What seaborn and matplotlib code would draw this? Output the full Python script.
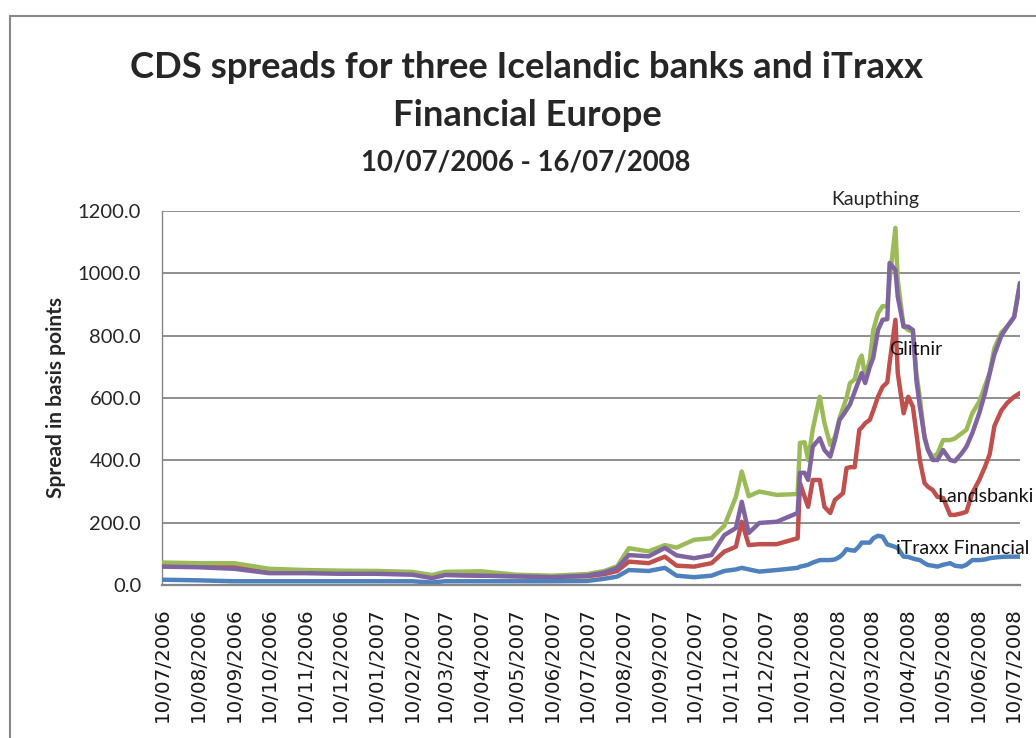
import matplotlib
matplotlib.use("Agg")
import matplotlib.pyplot as plt
from matplotlib.patches import Rectangle
from matplotlib.ticker import FormatStrFormatter
import seaborn as sns
import pandas as pd

dates = ["2006-07-10", "2006-08-10", "2006-09-10", "2006-10-10", "2006-11-10", "2006-12-10",
         "2007-01-10", "2007-02-10", "2007-02-27", "2007-03-10", "2007-04-10", "2007-05-10",
         "2007-06-10", "2007-07-10", "2007-07-25", "2007-08-05", "2007-08-15", "2007-09-01",
         "2007-09-15", "2007-09-25", "2007-10-10", "2007-10-25", "2007-11-05", "2007-11-15",
         "2007-11-20", "2007-11-26", "2007-12-05", "2007-12-20",
         "2008-01-07", "2008-01-09", "2008-01-13", "2008-01-16", "2008-01-20", "2008-01-26",
         "2008-01-30", "2008-02-04", "2008-02-08", "2008-02-12", "2008-02-15", "2008-02-18",
         "2008-02-21", "2008-02-25", "2008-02-29", "2008-03-02", "2008-03-05", "2008-03-09",
         "2008-03-12", "2008-03-16", "2008-03-20", "2008-03-24", "2008-03-26", "2008-03-31",
         "2008-04-02", "2008-04-07", "2008-04-11", "2008-04-15", "2008-04-18", "2008-04-21",
         "2008-04-25", "2008-04-28", "2008-05-02", "2008-05-06", "2008-05-11", "2008-05-17",
         "2008-05-21", "2008-05-27", "2008-05-31", "2008-06-05", "2008-06-11", "2008-06-16",
         "2008-06-20", "2008-06-24", "2008-06-30", "2008-07-05", "2008-07-11", "2008-07-16"]

kaupthing = [72, 70, 70, 52, 48, 46, 45, 42, 32, 42, 44, 33,
             30, 35, 45, 60, 118, 108, 128, 120, 145, 150, 190, 283,
             364, 285, 300, 289,
             292, 456, 458, 401, 500, 604,
             520, 450, 475, 535, 568, 600,
             648, 660, 722, 736, 669, 722,
             818, 872, 895, 893, 979, 1146,
             979, 830, 818, 813, 680, 600,
             470, 433, 412, 420, 465, 465,
             470, 487, 498, 551, 588, 640,
             680, 760, 810, 829, 860, 969]

glitnir = [59, 57, 52, 38, 38, 36, 36, 33, 22, 32, 30, 28,
           25, 30, 40, 55, 96, 92, 119, 95, 86, 96, 160, 183,
           267, 167, 199, 203,
           231, 360, 360, 337, 444, 471,
           433, 412, 465, 530, 545, 562,
           580, 620, 660, 680, 648, 700,
           730, 818, 851, 853, 1033, 1011,
           925, 829, 829, 818, 658, 572,
           476, 433, 401, 401, 433, 401,
           397, 423, 444, 487, 551, 616,
           680, 740, 800, 829, 860, 969]

landsbanki = [62, 60, 60, 45, 42, 40, 40, 36, 25, 33, 30, 28,
              26, 28, 35, 45, 75, 70, 91, 62, 59, 70, 107, 123,
              203, 128, 131, 131,
              150, 327, 283, 251, 337, 337,
              251, 231, 273, 285, 295, 375,
              378, 378, 498, 505, 519, 530,
              560, 604, 636, 650, 712, 851,
              680, 551, 604, 572, 487, 400,
              327, 315, 305, 283, 279, 225,
              225, 230, 235, 295, 337, 380,
              420, 510, 560, 584, 604, 616]

itraxx = [17, 15, 12, 12, 12, 12, 12, 12, 8, 12, 12, 12,
          12, 13, 20, 27, 48, 45, 55, 30, 25, 30, 45, 50,
          55, 50, 43, 48,
          55, 59, 62, 65, 72, 80,
          80, 80, 82, 90, 100, 115,
          112, 110, 125, 136, 136, 136,
          150, 158, 155, 130, 128, 122,
          118, 91, 90, 85, 82, 80,
          70, 64, 62, 59, 65, 70,
          62, 59, 65, 80, 80, 82,
          86, 88, 90, 91, 91, 91]

series_names = ["iTraxx Financial", "Landsbanki", "Kaupthing", "Glitnir"]
series_values = [itraxx, landsbanki, kaupthing, glitnir]
series_colors = ["#4F81BD", "#C0504D", "#9BBB59", "#8064A2"]

xtick_labels = ["10/07/2006", "10/08/2006", "10/09/2006", "10/10/2006", "10/11/2006",
                "10/12/2006", "10/01/2007", "10/02/2007", "10/03/2007", "10/04/2007",
                "10/05/2007", "10/06/2007", "10/07/2007", "10/08/2007", "10/09/2007",
                "10/10/2007", "10/11/2007", "10/12/2007", "10/01/2008", "10/02/2008",
                "10/03/2008", "10/04/2008", "10/05/2008", "10/06/2008", "10/07/2008"]
yticks = [0, 200, 400, 600, 800, 1000, 1200]
title_lines = ["CDS spreads for three Icelandic banks and iTraxx", "Financial Europe"]
subtitle = "10/07/2006 - 16/07/2008"
ylabel = "Spread in basis points"

sns.set_theme(style="white")
narrow = ["Lato", "DejaVu Sans"]
plt.rcParams["font.family"] = narrow

W, H = 1036, 738
fig = plt.figure(figsize=(W / 100, H / 100), dpi=100)
ax = fig.add_axes([162 / W, 1 - 585 / H, (1020 - 162) / W, (585 - 211) / H])

frames = []
for name, vals in zip(series_names, series_values):
    frames.append(pd.DataFrame({"date": pd.to_datetime(dates), "value": vals, "series": name}))
df = pd.concat(frames, ignore_index=True)

for name, color in zip(series_names, series_colors):
    sns.lineplot(data=df[df["series"] == name], x="date", y="value", color=color,
                 linewidth=3.2, ax=ax, legend=False, zorder=3)

ax.set_xlim(pd.Timestamp("2006-07-10"), pd.Timestamp("2008-07-16"))
ax.set_ylim(0, 1200)
ax.set_yticks(yticks)
ax.yaxis.set_major_formatter(FormatStrFormatter("%.1f"))
tick_dates = pd.to_datetime(xtick_labels, format="%d/%m/%Y")
ax.set_xticks(tick_dates)
ax.set_xticklabels(xtick_labels, rotation=90, fontfamily="DejaVu Sans",
                   fontsize=14.3, color="#1a1a1a", ha="center")

ax.grid(axis="y", color="#868686", linewidth=1.3)
ax.grid(axis="x", visible=False)
for s in ["top", "right"]:
    ax.spines[s].set_visible(False)
ax.spines["left"].set_color("#868686")
ax.spines["left"].set_linewidth(1.0)
ax.spines["bottom"].set_color("#868686")
ax.spines["bottom"].set_linewidth(1.6)
ax.spines["bottom"].set_zorder(4)

ax.tick_params(axis="y", length=0, pad=15, labelsize=14.5, labelcolor="#262626")
ax.tick_params(axis="x", length=0, pad=16)
ax.set_xlabel("")
ax.set_ylabel(ylabel, fontsize=15, fontweight="bold")
ax.yaxis.set_label_coords(-0.112, 0.5)

fig.text(527 / W, 1 - 68 / H, title_lines[0], ha="center", va="center",
         fontsize=26.3, fontweight="bold")
fig.text(527 / W, 1 - 115 / H, title_lines[1], ha="center", va="center",
         fontsize=26.3, fontweight="bold")
fig.text(526 / W, 1 - 162 / H, subtitle, ha="center", va="center",
         fontsize=19.8, fontweight="bold")

fig.text(875 / W, 1 - 199 / H, "Kaupthing", ha="center", va="center", fontsize=14, color="#262626")
fig.text(889 / W, 1 - 349 / H, "Glitnir", ha="left", va="center", fontsize=14, color="#111111")
fig.text(937 / W, 1 - 497 / H, "Landsbanki", ha="left", va="center", fontsize=14, color="#111111")
fig.text(896 / W, 1 - 549 / H, "iTraxx Financial", ha="left", va="center", fontsize=14, color="#111111")

fig.patches.append(Rectangle((10 / W, -0.1), 1.2, 1.1 - 16 / H, transform=fig.transFigure,
                             fill=False, edgecolor="#888888", linewidth=1.5))

fig.savefig("out.png", dpi=100)
